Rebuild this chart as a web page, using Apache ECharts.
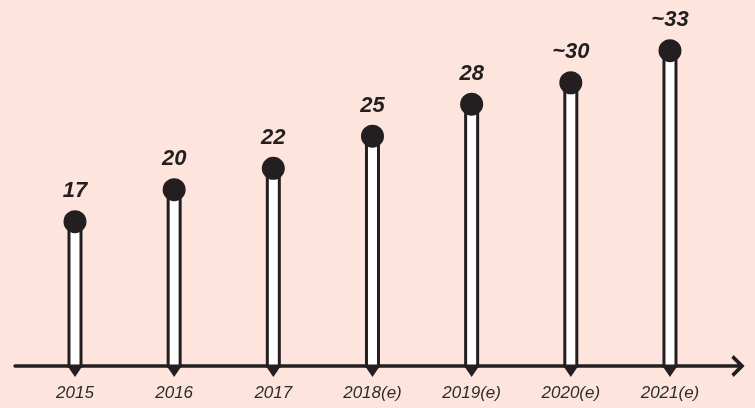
<!DOCTYPE html>
<html>
<head>
<meta charset="utf-8">
<script src="https://cdn.jsdelivr.net/npm/echarts@6/dist/echarts.min.js"></script>
<style>
  html, body { margin: 0; padding: 0; background: #fde4dd; }
  #chart { width: 755px; height: 408px; }
</style>
</head>
<body>
<div id="chart"></div>
<script>
// years along the axis
const years = ["2015", "2016", "2017", "2018(e)", "2019(e)", "2020(e)", "2021(e)"];
// values shown above each dot
const values = [17, 20, 22, 25, 28, 30, 33];
const valueLabels = ["17", "20", "22", "25", "28", "~30", "~33"];

const ink = "#231f20";
const yMin = 3.5;

const chart = echarts.init(document.getElementById("chart"));

chart.setOption({
  animation: false,
  backgroundColor: "#fde4dd",
  grid: { left: 15, right: 17, top: 40, bottom: 42 },
  xAxis: {
    type: "value",
    min: -0.605,
    max: 6.686,
    splitLine: { show: false },
    axisTick: { show: false },
    axisLine: {
      show: true,
      symbol: ["none", "path://M0,10 L10,0 L20,10 L17.3,12 L10,4.8 L2.7,12 Z"],
      symbolSize: [22, 15],
      lineStyle: { color: ink, width: 3.5 },
    },
    axisLabel: {
      customValues: years.map((y, i) => i),
      formatter: (v) => years[v],
      margin: 19,
      color: "#2b2b2b",
      fontFamily: "Liberation Sans",
      fontStyle: "italic",
      fontSize: 17,
    },
  },
  yAxis: {
    type: "value",
    min: yMin,
    max: 34,
    show: false,
  },
  series: [
    {
      type: "bar",
      barWidth: 15,
      clip: true,
      itemStyle: { color: "#ffffff", borderColor: ink, borderWidth: 3 },
      data: values.map((v, i) => [i, v]),
      z: 2,
    },
    {
      type: "scatter",
      symbol: "triangle",
      symbolRotate: 180,
      symbolSize: [15, 11],
      symbolOffset: [0, 5.5],
      clip: false,
      itemStyle: { color: ink, opacity: 1 },
      data: values.map((v, i) => [i, yMin]),
      z: 3,
    },
    {
      type: "scatter",
      symbol: "circle",
      symbolSize: 23,
      clip: false,
      itemStyle: { color: ink, opacity: 1 },
      label: {
        show: true,
        position: "top",
        distance: 8,
        formatter: (p) => valueLabels[p.dataIndex],
        color: ink,
        fontFamily: "Liberation Sans",
        fontStyle: "italic",
        fontWeight: "bold",
        fontSize: 22,
      },
      data: values.map((v, i) => [i, v]),
      z: 4,
    },
  ],
});
</script>
</body>
</html>
